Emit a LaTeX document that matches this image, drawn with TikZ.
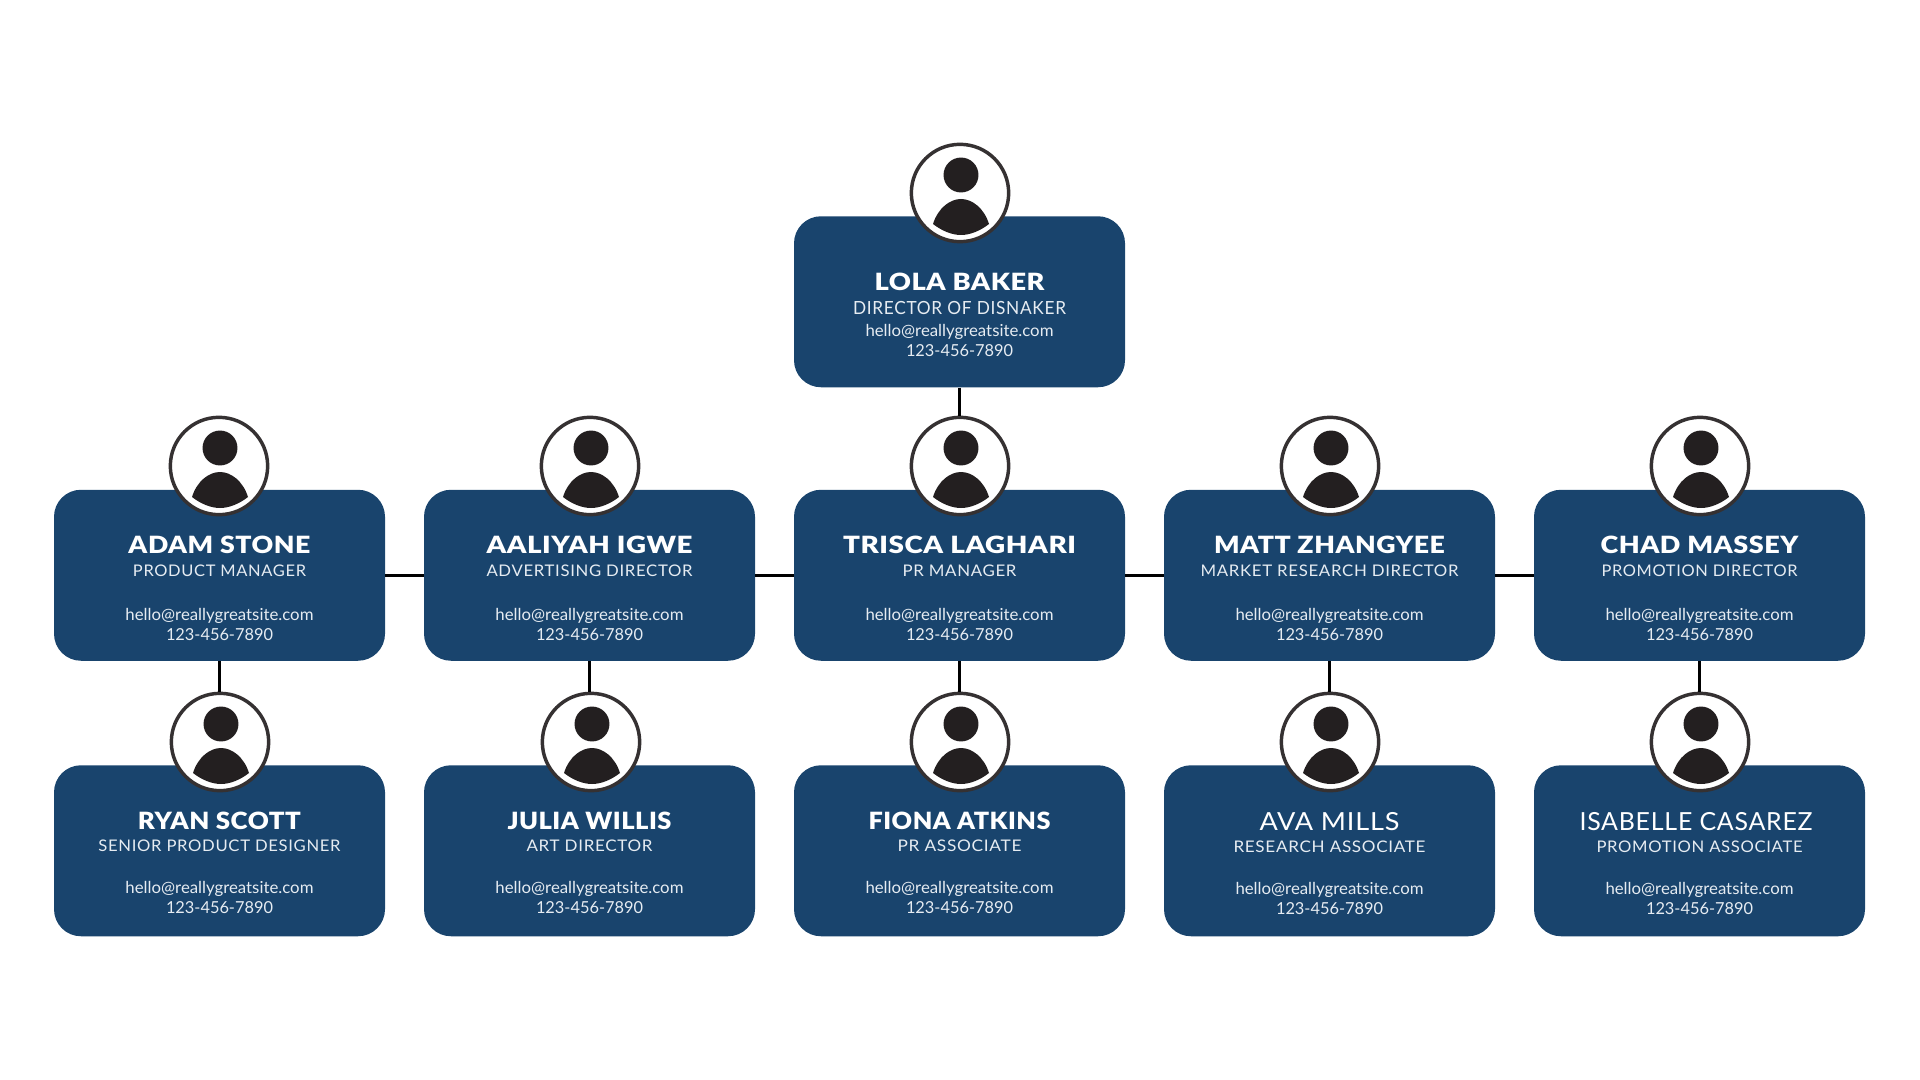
\documentclass[tikz,border=0pt]{standalone}
\usepackage{fontspec}
\usepackage{graphicx}
\setmainfont{Lato}
\newfontfamily\heavyface[LetterSpace=2]{Lato Black}
\newfontfamily\roleface[LetterSpace=4]{Lato}
\newfontfamily\thinname[LetterSpace=3]{Lato}
\definecolor{navy}{HTML}{19446D}
\definecolor{ink}{HTML}{231F20}
\definecolor{pale}{HTML}{E6ECF2}
\newcommand\fitw[2]{\resizebox{\dimexpr#1pt*3/4\relax}{\height}{#2}}
\newcommand\boldname{\fontsize{17.8pt}{20pt}\heavyface\color{white}}
\newcommand\lightname{\fontsize{18.7pt}{20pt}\thinname\color{white}}
\newcommand\layout[4]{\def\oa{#1}\def\ob{#2}\def\oc{#3}\def\od{#4}}
\tikzset{
  cardbox/.style={fill=navy,rounded corners=20.25pt,minimum width=248.25pt,minimum height=128.25pt,inner sep=0pt,draw=none},
  lineText/.style={anchor=base,inner sep=0pt,outer sep=0pt},
  avatarring/.style={circle,fill=white,draw=ink!92!white,line width=2.6pt,minimum size=73pt,inner sep=0pt},
  link/.style={draw=black,line width=2.25pt},
}
% id, box centre x, box top y, avatar centre x, avatar centre y, name (with width), role, role width
\newcommand\staffcard[8]{%
  \node[cardbox,anchor=north] (#1) at (#2,#3) {};
  \node[avatarring] (#1-av) at (#4,#5) {};
  \fill[ink] (#4+1,#5-18) circle[radius=13.1pt];
  \fill[ink] (#4-27,#5+31) .. controls (#4-22,#5+15) and (#4-10,#5+6) .. (#4+1,#5+6)
     .. controls (#4+12,#5+6) and (#4+24,#5+15) .. (#4+29,#5+31)
     .. controls (#4+20,#5+38) and (#4+10,#5+42) .. (#4+1,#5+42)
     .. controls (#4-8,#5+42) and (#4-18,#5+38) .. (#4-27,#5+31) -- cycle;
  \node[lineText] (#1-name) at (#2,#3+\oa) {#6};
  \node[lineText,text=pale] (#1-role) at (#2,#3+\ob) {\rolefont\fitw{#8}{#7}};
  \node[lineText,text=pale] (#1-mail) at (#2,#3+\oc) {\fontsize{12.4pt}{15pt}\selectfont\fitw{188}{hello@reallygreatsite.com}};
  \node[lineText,text=pale] (#1-tel) at (#2,#3+\od) {\fontsize{12.4pt}{15pt}\selectfont\fitw{107}{123-456-7890}};
}
\begin{document}
\begin{tikzpicture}[x=0.75pt,y=-0.75pt]
\useasboundingbox (0,0) rectangle (1920,1080);
\def\rolefont{\fontsize{13.6pt}{16pt}\roleface}
\layout{75}{99}{121}{141}
\staffcard{lola}{959.5}{216}{960}{193}{\boldname\fitw{170}{LOLA BAKER}}{DIRECTOR OF DISNAKER}{213}
\def\rolefont{\fontsize{12pt}{15pt}\roleface}
\layout{63.5}{86.5}{130.5}{150.5}
\staffcard{adam}{219.5}{489.5}{219}{466}{\boldname\fitw{182}{ADAM STONE}}{PRODUCT MANAGER}{173}
\staffcard{aaliyah}{589.5}{489.5}{590}{466}{\boldname\fitw{206}{AALIYAH IGWE}}{ADVERTISING DIRECTOR}{206}
\staffcard{trisca}{959.5}{489.5}{960}{466}{\boldname\fitw{233}{TRISCA LAGHARI}}{PR MANAGER}{114}
\staffcard{matt}{1329.5}{489.5}{1330}{466}{\boldname\fitw{231}{MATT ZHANGYEE}}{MARKET RESEARCH DIRECTOR}{258}
\staffcard{chad}{1699.5}{489.5}{1700}{466}{\boldname\fitw{198}{CHAD MASSEY}}{PROMOTION DIRECTOR}{196}
\layout{64}{86}{128}{148}
\staffcard{ryan}{219.5}{765}{220}{742}{\boldname\fitw{163}{RYAN SCOTT}}{SENIOR PRODUCT DESIGNER}{242}
\staffcard{julia}{589.5}{765}{591}{742}{\boldname\fitw{164}{JULIA WILLIS}}{ART DIRECTOR}{126}
\staffcard{fiona}{959.5}{765}{960}{742}{\boldname\fitw{182}{FIONA ATKINS}}{PR ASSOCIATE}{124}
\layout{65}{87}{129}{149}
\staffcard{ava}{1329.5}{765}{1330}{742}{\lightname\fitw{140}{AVA MILLS}}{RESEARCH ASSOCIATE}{192}
\staffcard{isabelle}{1699.5}{765}{1700}{742}{\lightname\hspace*{-5.2pt}\fitw{233}{ISABELLE CASAREZ}}{PROMOTION ASSOCIATE}{206}
% connectors
\draw[link] (adam.east) -- (aaliyah.west);
\draw[link] (aaliyah.east) -- (trisca.west);
\draw[link] (trisca.east) -- (matt.west);
\draw[link] (matt.east) -- (chad.west);
\draw[link] (lola.south) -- (lola.south |- trisca-av.north);
\draw[link] (adam.south) -- (adam.south |- ryan-av.north);
\draw[link] (aaliyah.south) -- (aaliyah.south |- julia-av.north);
\draw[link] (trisca.south) -- (trisca.south |- fiona-av.north);
\draw[link] (matt.south) -- (matt.south |- ava-av.north);
\draw[link] (chad.south) -- (chad.south |- isabelle-av.north);
\end{tikzpicture}
\end{document}
